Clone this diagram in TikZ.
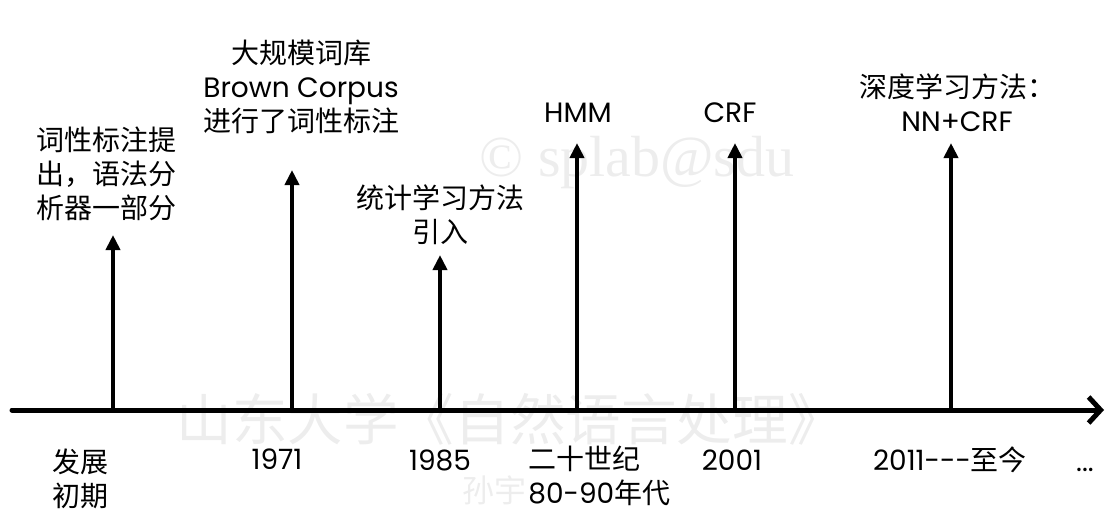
\documentclass[tikz,border=0pt]{standalone}
\usepackage{fontspec}
\setmainfont{Poppins}
\newfontfamily\cjk{Noto Sans CJK SC}
\newfontfamily\wmserif{Liberation Serif}
\usetikzlibrary{arrows.meta,positioning}
\definecolor{wm}{HTML}{EDEDED}
\tikzset{
  lbl/.style={font=\cjk\fontsize{14}{17}\selectfont,align=center,inner sep=0pt},
  lat/.style={font=\fontsize{14}{17}\selectfont,align=center,inner sep=0pt},
  evt/.style={-{Triangle[length=7.5pt,width=7pt]},line width=2pt},
  axisline/.style={-{Straight Barb[length=6pt,width=13pt]},line width=2.5pt,line cap=round},
  wmark/.style={text=wm,inner sep=0pt},
}

\begin{document}
\begin{tikzpicture}[x=0.5pt,y=-0.5pt]
  \useasboundingbox (0,0) rectangle (1114,521);
  % watermarks
  \node[wmark,font=\wmserif\fontsize{29}{30}\selectfont] (wm1) at (637,163) {\textcopyright{} splab@sdu};
  \node[wmark,font=\cjk\fontsize{27.8}{30}\selectfont] (wm2) at (510,419) {山东大学《自然语言处理》};
  \node[wmark,font=\cjk\fontsize{16}{18}\selectfont] (wm3) at (494,490) {孙宇};
  % time axis
  \coordinate (ax0) at (12,410);
  \coordinate (ax1) at (1104,410);
  \draw[axisline] (ax0) -- (ax1);
  \foreach \x/\tip/\n in {113/235/a,292/170/b,440/255/c,577/143/d,735/143/e,951/143/f}{
    \coordinate (base\n) at (\x,410);
    \coordinate (tip\n) at (\x,\tip);
    \draw[evt] (base\n) -- (tip\n);
  }
  % events
  \node[lbl,align=left] (ea) at (106,174) {词性标注提\\出，语法分\\析器一部分};
  \node[lbl] (eb) at (301,87) {大规模词库\\{\normalfont Brown Corpus}\\进行了词性标注};
  \node[lbl] (ec) at (440,215) {统计学习方法\\引入};
  \node[lat] (ed) at (578,113) {HMM};
  \node[lat] (ee) at (730,113) {CRF};
  \node[lbl] (ef) at (957,103) {深度学习方法：\\{\normalfont NN+CRF}};
  % dates
  \node[lbl,align=left] (da) at (80,479) {发展\\初期};
  \node[lat] (db) at (277,459) {1971};
  \node[lat] (dc) at (440,460) {1985};
  \node[lbl,align=left,anchor=west] (dd) at (528,476) {二十世纪\\{\normalfont 80-90}年代};
  \node[lat] (de) at (732,460) {2001};
  \node[lbl] (df) at (950,460) {{\normalfont 2011-{}-{}-}至今};
  \node[lat,anchor=base] (dg) at (1085,471) {...};
\end{tikzpicture}
\end{document}
